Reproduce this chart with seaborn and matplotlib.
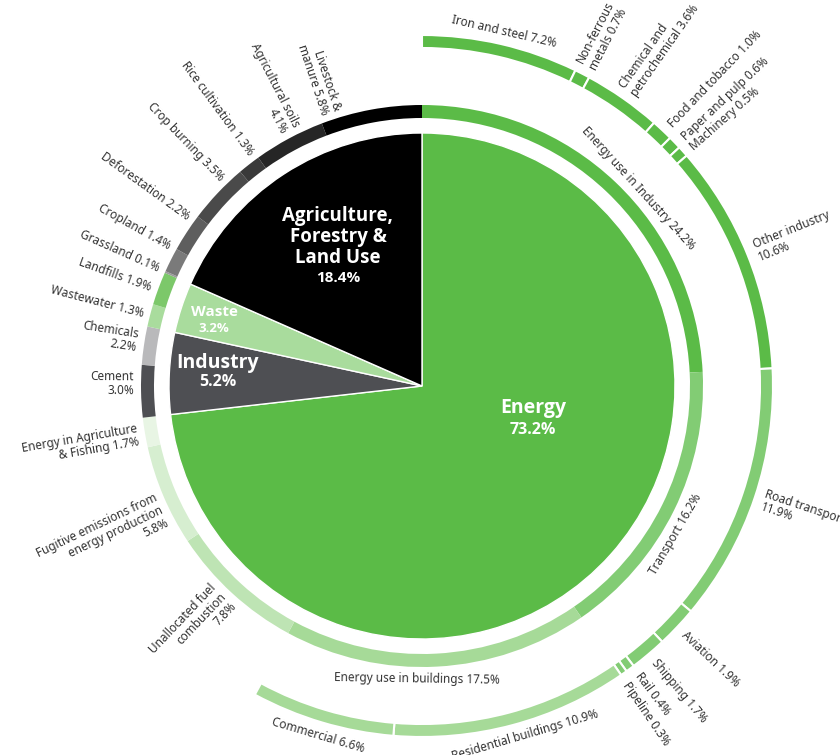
import matplotlib.pyplot as plt
import numpy as np
import pandas as pd
import seaborn as sns

# ---- data ----
sectors = ["Energy", "Industry", "Waste", "Agriculture, Forestry & Land Use"]
sector_share = [73.2, 5.2, 3.2, 18.4]
sector_colors = ["#5bbb47", "#4e4f53", "#a9dc9d", "#000000"]

sub_names = ["Energy use in Industry 24.2%", "Transport 16.2%", "Energy use in buildings 17.5%",
             "Unallocated fuel\ncombustion\n7.8%", "Fugitive emissions from\nenergy production\n5.8%",
             "Energy in Agriculture\n& Fishing 1.7%",
             "Cement\n3.0%", "Chemicals\n2.2%",
             "Wastewater 1.3%", "Landfills 1.9%",
             "Grassland 0.1%", "Cropland 1.4%", "Deforestation 2.2%", "Crop burning 3.5%",
             "Rice cultivation 1.3%", "Agricultural soils\n4.1%", "Livestock &\nmanure 5.8%"]
sub_share = [24.2, 16.2, 17.5, 7.8, 5.8, 1.7,
             3.0, 2.2,
             1.3, 1.9,
             0.1, 1.4, 2.2, 3.5, 1.3, 4.1, 5.8]
sub_colors = ["#5bbb47", "#82cc74", "#a6da98", "#bee4b4", "#d6eed0", "#e8f5e4",
              "#4e4f53", "#b9b9bb",
              "#a9dc9d", "#7cc86a",
              "#9a9a9a", "#7a7a7a", "#5e5e5e", "#4a4a4a", "#3a3a3a", "#262626", "#000000"]
sub_tangent = ["Energy use in Industry 24.2%", "Transport 16.2%", "Energy use in buildings 17.5%"]

detail_names = ["Iron and steel 7.2%", "Non-ferrous\nmetals 0.7%", "Chemical and\npetrochemical 3.6%",
                "Food and tobacco 1.0%", "Paper and pulp 0.6%", "Machinery 0.5%",
                "Other industry\n10.6%",
                "Road transport\n11.9%", "Aviation 1.9%", "Shipping 1.7%", "Rail 0.4%", "Pipeline 0.3%",
                "Residential buildings 10.9%", "Commercial 6.6%"]
detail_share = [7.2, 0.7, 3.6, 1.0, 0.6, 0.5, 10.6,
                11.9, 1.9, 1.7, 0.4, 0.3,
                10.9, 6.6]
detail_colors = ["#5bbb47"] * 7 + ["#82cc74"] * 5 + ["#a6da98"] * 2
detail_tangent = ["Iron and steel 7.2%", "Residential buildings 10.9%", "Commercial 6.6%"]

# angle nudges (degrees) for label placement, to keep crowded labels apart
nudge = {
    "Energy use in Industry 24.2%": 4, "Transport 16.2%": 4, "Energy use in buildings 17.5%": 4,
    "Unallocated fuel\ncombustion\n7.8%": 1, "Fugitive emissions from\nenergy production\n5.8%": -2.5,
    "Energy in Agriculture\n& Fishing 1.7%": -0.3, "Cement\n3.0%": 1.5, "Chemicals\n2.2%": 0.7,
    "Landfills 1.9%": -0.4, "Cropland 1.4%": 2.4, "Deforestation 2.2%": 2.7,
    "Crop burning 3.5%": 2.6, "Rice cultivation 1.3%": 1.6, "Agricultural soils\n4.1%": 1,
    "Livestock &\nmanure 5.8%": -8,
    "Food and tobacco 1.0%": 0.5, "Paper and pulp 0.6%": 0.5, "Machinery 0.5%": 0.5,
    "Rail 0.4%": -0.5, "Pipeline 0.3%": 0.7, "Residential buildings 10.9%": -1.5,
}

sns.set_theme(style="white")
plt.rcParams['font.family'] = ['Noto Sans', 'DejaVu Sans']

fig = plt.figure(figsize=(8.4, 7.55), dpi=100)
ax = fig.add_axes([0, 0, 1, 1])

# core pie
ax.pie(sector_share, colors=sector_colors, radius=253, startangle=90, counterclock=False,
       wedgeprops=dict(edgecolor="white", linewidth=1))
# middle ring
ax.pie(sub_share, colors=sub_colors, radius=281, startangle=90, counterclock=False,
       wedgeprops=dict(width=13, linewidth=0))
# outer ring (only the three energy groups are broken down)
rest = 100 - sum(detail_share)
ax.pie(detail_share + [rest], colors=detail_colors + ["none"], radius=351, startangle=90,
       counterclock=False, wedgeprops=dict(width=13, edgecolor="white", linewidth=1.5))
ax.patches[-1].set_edgecolor("none")


def mid_angles(vals):
    c = np.cumsum(vals)
    return 360 * (c - np.array(vals) / 2) / 100


def put_label(text, theta, r, tangent):
    phi = np.deg2rad(90 - theta)
    x, y = r * np.cos(phi), r * np.sin(phi)
    if tangent:
        rot = 180 - theta if 90 < theta < 270 else -theta
        ha = "center"
    elif theta < 180:
        rot, ha = 90 - theta, "left"
    else:
        rot, ha = 270 - theta, "right"
    ax.text(x, y, text, rotation=rot, rotation_mode="anchor", ha=ha, va="center",
            multialignment=ha, fontsize=8.5, color="#333333", linespacing=1.1)


for name, th in zip(sub_names, mid_angles(sub_share)):
    t = name in sub_tangent
    put_label(name, th + nudge.get(name, 0), 293 if t else 288, t)

for name, th in zip(detail_names, mid_angles(detail_share)):
    t = name in detail_tangent
    put_label(name, th + nudge.get(name, 0), 364 if t else 360, t)

# sector labels inside the pie
core = pd.DataFrame({
    "title": ["Energy", "Industry", "Waste", "Agriculture,\nForestry &\nLand Use"],
    "share": sector_share,
    "dx": [111, -204, -208, -84],
    "dy": [-22, 23, 74, 149],
    "pdy": [-44, 4, 58, 108],
    "size": [14, 14, 11, 13.5],
    "psize": [11.5, 11.5, 9.5, 11],
})
for _, row in core.iterrows():
    ax.text(row.dx, row.dy, row.title, ha="center", va="center", color="white",
            fontsize=row["size"], fontweight="bold", linespacing=1.05, family="Open Sans")
    ax.text(row.dx, row.pdy, f"{row.share:.1f}%", ha="center", va="center", color="white",
            fontsize=row.psize, fontweight="bold", family="Open Sans")

ax.set_xlim(-422, 840 - 422)
ax.set_ylim(-(755 - 386), 386)
ax.set_aspect("equal")
ax.axis("off")
fig.savefig("out.png", dpi=100)
